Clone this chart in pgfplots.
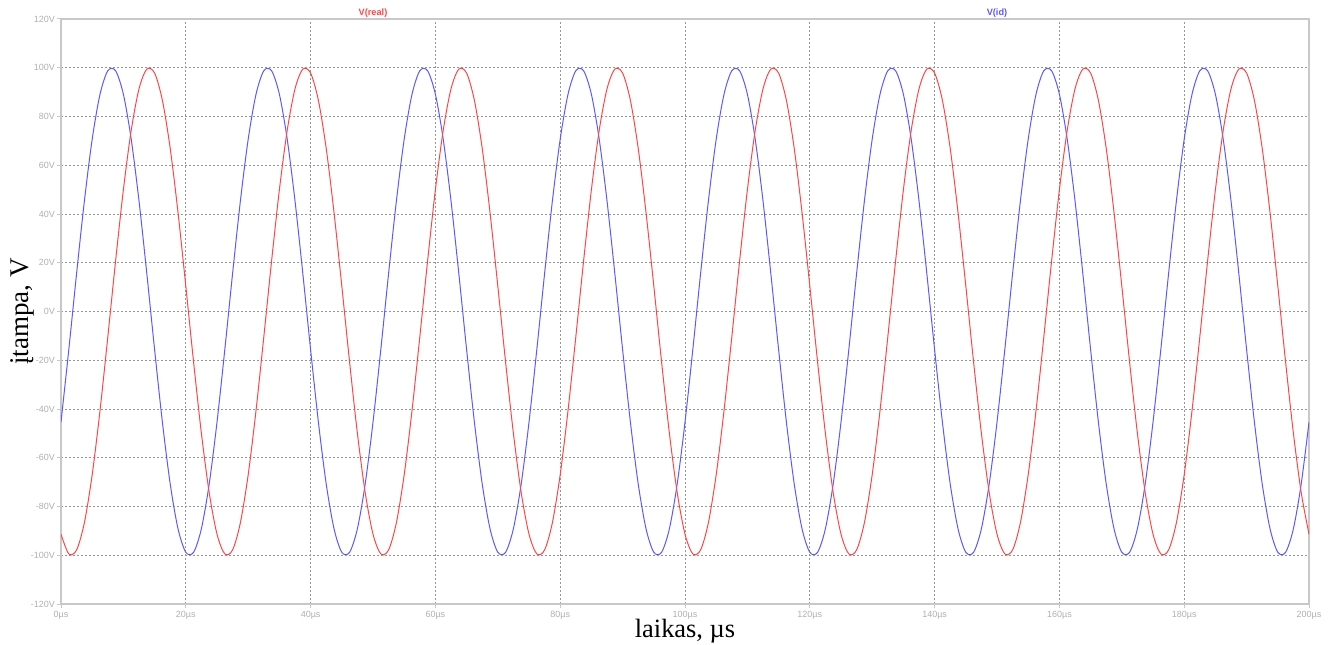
\documentclass[border=0pt]{standalone}
\usepackage{fontspec}
\setmainfont{Liberation Serif}
\newfontfamily\ltsans{Liberation Sans}
\usepackage{pgfplots}
\usepackage{pgfplotstable}
\pgfplotsset{compat=1.18}
\definecolor{lsred}{RGB}{255,70,70}
\definecolor{lsblue}{RGB}{90,90,255}
\definecolor{framegray}{RGB}{200,200,200}
\definecolor{gridgray}{RGB}{150,150,150}
\definecolor{ticklabgray}{RGB}{175,175,175}

\pgfplotstableread{
t b r
0 -45.40 -91.35
1.25 -15.64 -99.45
2.5 15.64 -97.81
3.75 45.40 -86.60
5 70.71 -66.91
6.25 89.10 -40.67
7.5 98.77 -10.45
8.75 98.77 20.79
10 89.10 50.00
11.25 70.71 74.31
12.5 45.40 91.35
13.75 15.64 99.45
15 -15.64 97.81
16.25 -45.40 86.60
17.5 -70.71 66.91
18.75 -89.10 40.67
20 -98.77 10.45
21.25 -98.77 -20.79
22.5 -89.10 -50.00
23.75 -70.71 -74.31
25 -45.40 -91.35
26.25 -15.64 -99.45
27.5 15.64 -97.81
28.75 45.40 -86.60
30 70.71 -66.91
31.25 89.10 -40.67
32.5 98.77 -10.45
33.75 98.77 20.79
35 89.10 50.00
36.25 70.71 74.31
37.5 45.40 91.35
38.75 15.64 99.45
40 -15.64 97.81
41.25 -45.40 86.60
42.5 -70.71 66.91
43.75 -89.10 40.67
45 -98.77 10.45
46.25 -98.77 -20.79
47.5 -89.10 -50.00
48.75 -70.71 -74.31
50 -45.40 -91.35
51.25 -15.64 -99.45
52.5 15.64 -97.81
53.75 45.40 -86.60
55 70.71 -66.91
56.25 89.10 -40.67
57.5 98.77 -10.45
58.75 98.77 20.79
60 89.10 50.00
61.25 70.71 74.31
62.5 45.40 91.35
63.75 15.64 99.45
65 -15.64 97.81
66.25 -45.40 86.60
67.5 -70.71 66.91
68.75 -89.10 40.67
70 -98.77 10.45
71.25 -98.77 -20.79
72.5 -89.10 -50.00
73.75 -70.71 -74.31
75 -45.40 -91.35
76.25 -15.64 -99.45
77.5 15.64 -97.81
78.75 45.40 -86.60
80 70.71 -66.91
81.25 89.10 -40.67
82.5 98.77 -10.45
83.75 98.77 20.79
85 89.10 50.00
86.25 70.71 74.31
87.5 45.40 91.35
88.75 15.64 99.45
90 -15.64 97.81
91.25 -45.40 86.60
92.5 -70.71 66.91
93.75 -89.10 40.67
95 -98.77 10.45
96.25 -98.77 -20.79
97.5 -89.10 -50.00
98.75 -70.71 -74.31
100 -45.40 -91.35
101.25 -15.64 -99.45
102.5 15.64 -97.81
103.75 45.40 -86.60
105 70.71 -66.91
106.25 89.10 -40.67
107.5 98.77 -10.45
108.75 98.77 20.79
110 89.10 50.00
111.25 70.71 74.31
112.5 45.40 91.35
113.75 15.64 99.45
115 -15.64 97.81
116.25 -45.40 86.60
117.5 -70.71 66.91
118.75 -89.10 40.67
120 -98.77 10.45
121.25 -98.77 -20.79
122.5 -89.10 -50.00
123.75 -70.71 -74.31
125 -45.40 -91.35
126.25 -15.64 -99.45
127.5 15.64 -97.81
128.75 45.40 -86.60
130 70.71 -66.91
131.25 89.10 -40.67
132.5 98.77 -10.45
133.75 98.77 20.79
135 89.10 50.00
136.25 70.71 74.31
137.5 45.40 91.35
138.75 15.64 99.45
140 -15.64 97.81
141.25 -45.40 86.60
142.5 -70.71 66.91
143.75 -89.10 40.67
145 -98.77 10.45
146.25 -98.77 -20.79
147.5 -89.10 -50.00
148.75 -70.71 -74.31
150 -45.40 -91.35
151.25 -15.64 -99.45
152.5 15.64 -97.81
153.75 45.40 -86.60
155 70.71 -66.91
156.25 89.10 -40.67
157.5 98.77 -10.45
158.75 98.77 20.79
160 89.10 50.00
161.25 70.71 74.31
162.5 45.40 91.35
163.75 15.64 99.45
165 -15.64 97.81
166.25 -45.40 86.60
167.5 -70.71 66.91
168.75 -89.10 40.67
170 -98.77 10.45
171.25 -98.77 -20.79
172.5 -89.10 -50.00
173.75 -70.71 -74.31
175 -45.40 -91.35
176.25 -15.64 -99.45
177.5 15.64 -97.81
178.75 45.40 -86.60
180 70.71 -66.91
181.25 89.10 -40.67
182.5 98.77 -10.45
183.75 98.77 20.79
185 89.10 50.00
186.25 70.71 74.31
187.5 45.40 91.35
188.75 15.64 99.45
190 -15.64 97.81
191.25 -45.40 86.60
192.5 -70.71 66.91
193.75 -89.10 40.67
195 -98.77 10.45
196.25 -98.77 -20.79
197.5 -89.10 -50.00
198.75 -70.71 -74.31
200 -45.40 -91.35
}\wave

\begin{document}
\begin{tikzpicture}
\begin{axis}[
  at={(0,0)}, anchor=south west,
  width=624pt, height=292.5pt, scale only axis,
  xmin=0, xmax=200, ymin=-120, ymax=120,
  xtick={0,20,40,60,80,100,120,140,160,180,200},
  ytick={-120,-100,-80,-60,-40,-20,0,20,40,60,80,100,120},
  xticklabels={0µs,20µs,40µs,60µs,80µs,100µs,120µs,140µs,160µs,180µs,200µs},
  yticklabels={-120V,-100V,-80V,-60V,-40V,-20V,0V,20V,40V,60V,80V,100V,120V},
  ticklabel style={font=\ltsans\fontsize{4.5}{5}\selectfont, text=ticklabgray},
  xticklabel style={yshift=2pt},
  yticklabel style={xshift=2.5pt},
  grid=major,
  major grid style={gridgray, line width=0.45pt, dash pattern=on 1pt off 1pt},
  axis line style={framegray, line width=0.9pt},
  tick style={framegray, line width=0.5pt},
  tick align=outside, major tick length=2pt,
  tick pos=left,
  clip mode=individual,
]
\addplot[lsblue, line width=0.5pt, smooth] table[x=t, y=b] {\wave};
\addplot[lsred, line width=0.5pt, smooth] table[x=t, y=r] {\wave};
\end{axis}
\node[anchor=base, text=lsred, font=\ltsans\bfseries\fontsize{4.6}{5}\selectfont]
  at (156pt,294.3pt) {V(real)};
\node[anchor=base, text=lsblue, font=\ltsans\bfseries\fontsize{4.6}{5}\selectfont]
  at (468pt,294.3pt) {V(id)};
\node[anchor=base, font=\fontsize{13.2}{15}\selectfont]
  at (312pt,-16.8pt) {laikas, µs};
\node[anchor=base, rotate=90, font=\fontsize{13.5}{15}\selectfont]
  at (-16.5pt,146.25pt) {įtampa, V};
\pgfresetboundingbox
\path (-30.5pt,-20pt) rectangle (635.5pt,302pt);
\end{tikzpicture}
\end{document}
